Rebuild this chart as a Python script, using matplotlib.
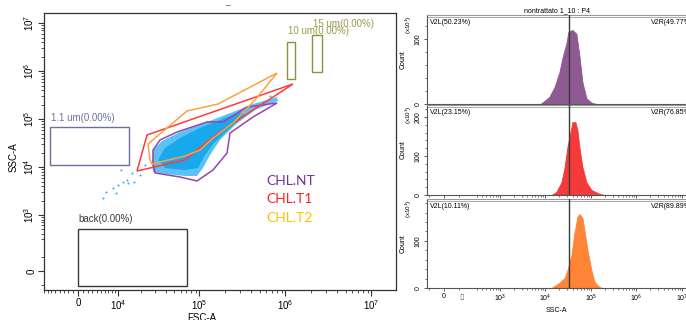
import matplotlib
matplotlib.use('Agg')
import matplotlib.pyplot as plt
from matplotlib.patches import Polygon
from matplotlib.ticker import FixedLocator, FixedFormatter, NullFormatter

plt.rcParams['font.family'] = ['Liberation Sans', 'DejaVu Sans']
plt.rcParams['mathtext.fontset'] = 'custom'
plt.rcParams['mathtext.rm'] = 'Liberation Sans'
plt.rcParams['mathtext.it'] = 'Liberation Sans'

# ---------------- data: dot plot (FSC-A vs SSC-A) ----------------
fsc_ticks = [0, 1e4, 1e5, 1e6, 1e7]
fsc_labels = ['0', '$10^4$', '$10^5$', '$10^6$', '$10^7$']
ssc_ticks = [0, 1e3, 1e4, 1e5, 1e6, 1e7]
ssc_labels = ['0', '$10^3$', '$10^4$', '$10^5$', '$10^6$', '$10^7$']

cloud_outer_fsc = [27570, 28340, 36320, 59230, 122400, 245800, 420000, 798300, 819900,
                   442900, 259300, 173500, 132700, 109970, 93550, 67790, 39430, 28340]
cloud_outer_ssc = [11060, 22710, 34960, 53840, 86940, 140400, 206100, 288200, 238000,
                   154600, 75290, 36690, 17860, 9575, 6520, 6520, 7180, 7900]
cloud_core_fsc = [32540, 39430, 59230, 101400, 173500, 296400, 338900, 215000, 151700,
                  116000, 96140, 67790, 39430]
cloud_core_ssc = [14050, 24990, 40390, 65210, 95760, 140400, 121600, 59260, 33330,
                  17860, 9575, 8700, 9575]
sparse_fsc = [5580, 6370, 8370, 9320, 9980, 11030, 11770, 13340, 13770, 15540, 16490,
              19640, 22650, 548700, 661800]
sparse_ssc = [2270, 3027, 3668, 2885, 4236, 8700, 4891, 5383, 4662, 7535, 4891,
              6842, 11060, 226900, 302300]

nt_fsc = [28340, 34380, 54600, 122400, 187900, 357600, 798300, 420000, 226800, 209200,
          143800, 93550, 59230, 29960, 28340]
nt_ssc = [22710, 36690, 53840, 86940, 86940, 178500, 216200, 110500, 51330, 19670,
          8700, 5132, 6218, 7535, 12170]
t1_fsc = [18010, 23970, 1225600, 387500, 160000, 93550, 67790]
t1_ssc = [8290, 46620, 538000, 140400, 48910, 22710, 14050]
t2_fsc = [24650, 71520, 164400, 798300, 442900, 245800, 143800, 101400, 67790, 27570, 26070]
t2_ssc = [30270, 147300, 206100, 911700, 249600, 82860, 40390, 22710, 17020, 11600, 14050]

gate_names = ['1.1 um(0.00%)', 'back(0.00%)', '10 um(0.00%)', '15 um(0.00%)']
gate_fsc = [(-6370, 14200), (0, 71500), (1043000, 1293000), (2038000, 2664000)]
gate_ssc = [(11060, 68400), (-107, 504), (684000, 4035000), (956000, 5645000)]

legend_names = ['CHL.NT', 'CHL.T1', 'CHL.T2']

# ---------------- data: histograms (SSC-A) ----------------
hist_ticks = [0, 1e3, 1e4, 1e5, 1e6, 1e7]
hist_labels = ['0', '$10^3$', '$10^4$', '$10^5$', '$10^6$', '$10^7$']
nt_hist_x = [7400, 8200, 12200, 15800, 20300, 23700, 29000, 32000, 39200, 48000,
             55800, 65000, 79600, 102500, 132000]
nt_hist_y = [0, 1, 11, 26, 49, 71, 94, 111, 114, 108, 75, 34, 9, 2, 0]
t1_hist_x = [13550, 17450, 22500, 26200, 30500, 37300, 39200, 45600, 50500, 55800,
             65000, 79600, 102500, 153800, 198000]
t1_hist_y = [0, 8, 33, 69, 123, 174, 187, 187, 167, 123, 72, 33, 13, 3, 0]
t2_hist_x = [13550, 20300, 26200, 30500, 37300, 43400, 50500, 55800, 65000, 71900,
             83800, 102500, 119400, 153800, 179000]
t2_hist_y = [0, 11, 21, 38, 70, 117, 151, 157, 149, 123, 81, 38, 13, 2, 0]
v2_split = 33600
v2l_text = ['V2L(50.23%)', 'V2L(23.15%)', 'V2L(10.11%)']
v2r_text = ['V2R(49.77%)', 'V2R(76.85%)', 'V2R(89.89%)']
count_ticks = [[0, 100], [0, 100, 200], [0, 100]]
count_max = [137, 231, 189]
zero_marker_x = 123

# ---------------- figure ----------------
W, H = 686, 320
fig = plt.figure(figsize=(W / 100, H / 100), dpi=100)


def fpos(l, t, r, b):
    return [l / W, 1 - b / H, (r - l) / W, (b - t) / H]


def log_minors(lo_exp, hi_exp):
    out = []
    for e in range(lo_exp, hi_exp):
        out += [k * 10 ** e for k in range(2, 10)]
    return out


ax = fig.add_axes(fpos(44, 13, 396, 290))
ax.set_xscale('asinh', linear_width=7750)
ax.set_yscale('asinh', linear_width=137)
ax.set_xlim(-8080, 1.93e7)
ax.set_ylim(-143, 1.62e7)

ax.fill(cloud_outer_fsc, cloud_outer_ssc, color='#5cc2f4', lw=0, zorder=1)
ax.fill(cloud_core_fsc, cloud_core_ssc, color='#18a8ee', lw=0, zorder=1.1)
ax.scatter(sparse_fsc, sparse_ssc, s=2.2, color='#2ab0f0', lw=0, zorder=1.2)

for xs, ys, c in [(nt_fsc, nt_ssc, '#9844b0'), (t1_fsc, t1_ssc, '#ff3b3b'), (t2_fsc, t2_ssc, '#ffa040')]:
    ax.add_patch(Polygon(list(zip(xs, ys)), closed=True, fill=False, edgecolor=c, lw=1.1, zorder=3))

gate_colors = ['#6f6f9f', '#3a3a3a', '#8f8f40', '#8f8f40']
gate_offsets = [3, 3.5, 4, 4]
for name, (x0, x1), (y0, y1), c, off in zip(gate_names, gate_fsc, gate_ssc, gate_colors, gate_offsets):
    ax.add_patch(Polygon([(x0, y0), (x1, y0), (x1, y1), (x0, y1)], closed=True, fill=False,
                         edgecolor=c, lw=1.0, zorder=2))
    ax.annotate(name, (x0, y1), xytext=(0.5, off), textcoords='offset points',
                ha='left', va='bottom', fontsize=7, color=c if c != '#8f8f40' else '#9a9a48')

leg_colors = ['#7030a0', '#ff2020', '#ffc000']
leg_y = [0.394, 0.329, 0.260]
for name, c, yy in zip(legend_names, leg_colors, leg_y):
    ax.text(0.631, yy, name, transform=ax.transAxes, color=c, fontsize=10,
            family=['Lato', 'DejaVu Sans'], ha='left', va='center')

ax.xaxis.set_major_locator(FixedLocator(fsc_ticks))
ax.xaxis.set_major_formatter(FixedFormatter(fsc_labels))
ax.xaxis.set_minor_locator(FixedLocator([v for v in range(-8000, 10000, 1000) if v != 0] + log_minors(4, 7)))
ax.xaxis.set_minor_formatter(NullFormatter())
ax.yaxis.set_major_locator(FixedLocator(ssc_ticks))
ax.yaxis.set_major_formatter(FixedFormatter(ssc_labels))
ax.yaxis.set_minor_locator(FixedLocator([-100, 100] + log_minors(2, 7)[1:]))
ax.yaxis.set_minor_formatter(NullFormatter())
ax.tick_params(which='major', length=4, width=0.8, labelsize=7, pad=2, color='#333')
ax.tick_params(which='minor', length=2.2, width=0.6, color='#333')
ax.tick_params(axis='y', labelrotation=90, pad=1.5)
for lab in ax.get_yticklabels():
    lab.set_va('center')
for s in ax.spines.values():
    s.set_color('#333')
    s.set_linewidth(0.9)
ax.set_xlabel('FSC-A', fontsize=7)
ax.xaxis.set_label_coords(0.449, -0.083)
ax.set_ylabel('SSC-A', fontsize=7)
ax.yaxis.set_label_coords(-0.072, 0.48)
ax.text(0.523, 1.012, '\u2013', transform=ax.transAxes, ha='center', va='bottom', fontsize=6)

# ---------------- histograms ----------------
hist_specs = [
    (fpos(427, 15, 686, 104), nt_hist_x, nt_hist_y, '#8e5a92'),
    (fpos(427, 105, 686, 195), t1_hist_x, t1_hist_y, '#f53a3a'),
    (fpos(427, 199, 686, 288), t2_hist_x, t2_hist_y, '#ff8436'),
]
for i, (pos, hx, hy, col) in enumerate(hist_specs):
    hax = fig.add_axes(pos)
    hax.set_xscale('asinh', linear_width=118)
    hax.set_xlim(-114, 1.228e7)
    hax.set_ylim(0, count_max[i])
    hax.fill_between(hx, hy, 0, color=col, lw=0.6, edgecolor=col, zorder=2)
    hax.axvline(v2_split, color='#3a3a3a', lw=1.0, zorder=3)
    hax.xaxis.set_major_locator(FixedLocator(hist_ticks))
    hax.xaxis.set_minor_locator(FixedLocator([-100, 100] + log_minors(2, 7)[1:]))
    hax.xaxis.set_minor_formatter(NullFormatter())
    if i == 2:
        hax.xaxis.set_major_formatter(FixedFormatter(hist_labels))
        hax.set_xlabel('SSC-A', fontsize=5, labelpad=1.5)
        hax.text(zero_marker_x, -0.1, '\u25af', transform=hax.get_xaxis_transform(),
                 ha='center', va='center', fontsize=6, color='#666', family='DejaVu Sans')
    else:
        hax.xaxis.set_major_formatter(NullFormatter())
    hax.yaxis.set_major_locator(FixedLocator(count_ticks[i]))
    hax.yaxis.set_minor_locator(FixedLocator(list(range(20, count_max[i], 20))))
    hax.yaxis.set_major_formatter(FixedFormatter([str(v) for v in count_ticks[i]]))
    hax.yaxis.set_minor_formatter(NullFormatter())
    hax.tick_params(which='major', length=2.5, width=0.6, labelsize=5, pad=1.2, color='#444')
    hax.tick_params(which='minor', length=1.5, width=0.5, color='#444')
    hax.tick_params(axis='y', labelrotation=90)
    for lab in hax.get_yticklabels():
        lab.set_va('center')
    hax.spines['right'].set_visible(False)
    for k in ['left', 'bottom']:
        hax.spines[k].set_color('#555')
        hax.spines[k].set_linewidth(0.8)
    hax.spines['top'].set_color('#999')
    hax.spines['top'].set_linewidth(0.8)
    hax.plot([0, 1], [0.975, 0.975], transform=hax.transAxes, color='#aaa', lw=0.7, clip_on=False)
    hax.set_ylabel('Count', fontsize=5, labelpad=2)
    hax.yaxis.set_label_coords(-0.08, 0.5)
    hax.text(-0.071, 0.99, '(x10$^1$)', transform=hax.transAxes, rotation=90,
             ha='center', va='top', fontsize=4.5)
    hax.text(0.012, 0.92, v2l_text[i], transform=hax.transAxes, ha='left', va='center', fontsize=5)
    hax.text(0.865, 0.92, v2r_text[i], transform=hax.transAxes, ha='left', va='center', fontsize=5)
    if i == 0:
        hax.set_title('nontrattato 1_10 : P4', fontsize=5, pad=2)

fig.savefig('out.png', dpi=100)
